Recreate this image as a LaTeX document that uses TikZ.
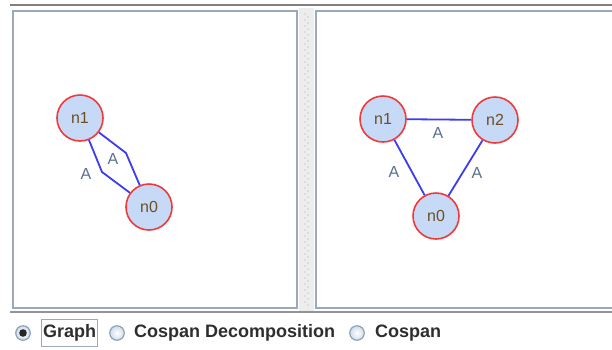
\documentclass[tikz,border=0pt]{standalone}
\usepackage{fontspec}
\setmainfont{Liberation Sans}
\setsansfont{Liberation Sans}
\begin{document}
\begin{tikzpicture}[x=1pt,y=-1pt,
  vertex/.style={circle,draw=nodered,line width=1.6pt,fill=nodefill,minimum size=46pt,inner sep=0pt,
    font=\fontsize{16}{16}\selectfont,text=labelbrown},
  edge/.style={draw=edgeblue,line width=1.8pt},
  elabel/.style={font=\fontsize{16}{16}\selectfont,text=elabelgray},
  panel/.style={draw=panelborder,line width=2pt,fill=white},
  radio/.style={circle,draw=radioring,line width=1.2pt,inner color=white,outer color=radiofill,minimum size=14.5pt,inner sep=0pt},
  choice/.style={font=\bfseries\fontsize{18}{18}\selectfont,text=textdark,anchor=west,inner sep=0pt}]
\definecolor{nodered}{HTML}{F03A3A}
\definecolor{nodefill}{HTML}{C6D9F7}
\definecolor{labelbrown}{HTML}{6E4E22}
\definecolor{edgeblue}{HTML}{3C3CF2}
\definecolor{elabelgray}{HTML}{5A6F94}
\definecolor{panelborder}{HTML}{9AAABA}
\definecolor{radioring}{HTML}{8FA3B8}
\definecolor{radiofill}{HTML}{CFDCEA}
\definecolor{textdark}{HTML}{2E2E2E}
\definecolor{splitgray}{HTML}{EDEDED}

\useasboundingbox[fill=white] (0,0) rectangle (612,349);

% split pane frame
\draw[line width=1.8pt,draw=gray] (10,5) -- (612,5);
\fill[splitgray] (299,8) rectangle (314,311);
\foreach \yy in {14,20,...,306} {
  \fill[gray!70] (305,\yy) circle (0.6pt);
  \fill[gray!70] (308,\yy+3) circle (0.6pt);
}
\draw[panel] (13,11) rectangle (297,308);
\draw[panel] (316,11) rectangle (616,308);
\draw[line width=2.2pt,draw=gray!85] (10,312) -- (612,312);

% left graph
\node[vertex] (a1) at (80,118) {n1};
\node[vertex] (a0) at (149,207) {n0};
\coordinate (ab1) at (102,172);
\coordinate (ab2) at (126,153);
\draw[edge] (a1) -- (ab1) -- (a0);
\draw[edge] (a1) -- (ab2) -- (a0);
\node[elabel] (al1) at (86,174) {A};
\node[elabel] (al2) at (113,159) {A};

% right graph
\node[vertex] (b1) at (383,119) {n1};
\node[vertex] (b2) at (495,120) {n2};
\node[vertex] (b0) at (436,216) {n0};
\draw[edge] (b1) -- (b2);
\draw[edge] (b1) -- (b0);
\draw[edge] (b2) -- (b0);
\node[elabel] (bl1) at (438,133) {A};
\node[elabel] (bl2) at (394,172) {A};
\node[elabel] (bl3) at (477,173) {A};

% view selector
\node[radio] (r1) at (23,333) {};
\fill[black!85] (r1) circle (3.8pt);
\node[choice] (t1) at (43,333) {Graph};
\draw[draw=panelborder,line width=0.8pt] (41,319.5) rectangle (97,346.5);
\node[radio] (r2) at (117,333) {};
\node[choice] (t2) at (134,333) {Cospan Decomposition};
\node[radio] (r3) at (357,333) {};
\node[choice] (t3) at (375,333) {Cospan};
\end{tikzpicture}
\end{document}
